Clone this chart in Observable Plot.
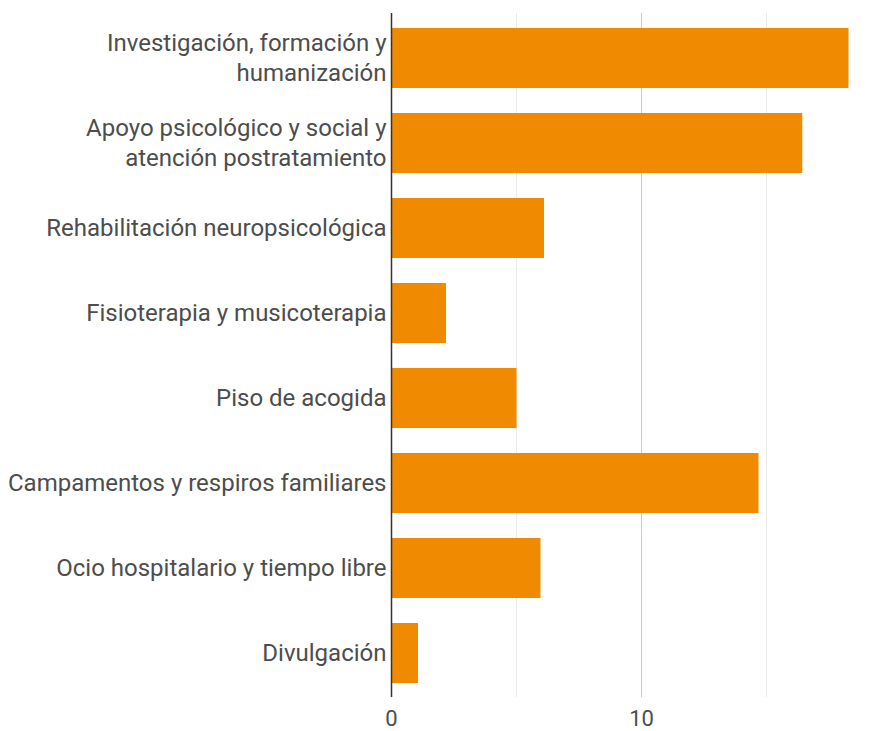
<!DOCTYPE html>
<html>
<head>
<meta charset="utf-8">
<script src="https://cdn.jsdelivr.net/npm/d3@7"></script>
<script src="https://cdn.jsdelivr.net/npm/@observablehq/plot@0.6"></script>
<style>
  html, body { margin: 0; padding: 0; background: #fff; }
  svg { display: block; }
</style>
</head>
<body>
<div id="chart"></div>
<script>
const categories = [
  "Investigación, formación y\nhumanización",
  "Apoyo psicológico y social y\natención postratamiento",
  "Rehabilitación neuropsicológica",
  "Fisioterapia y musicoterapia",
  "Piso de acogida",
  "Campamentos y respiros familiares",
  "Ocio hospitalario y tiempo libre",
  "Divulgación"
];
const values = [18.3, 16.45, 6.12, 2.2, 5.02, 14.7, 5.98, 1.08];
const majorTicks = [0, 10];
const minorTicks = [5, 15];

const data = categories.map((c, i) => ({category: c, value: values[i]}));

const chart = Plot.plot({
  width: 885,
  height: 731,
  marginLeft: 391,
  marginRight: 19,
  marginTop: 13,
  marginBottom: 34,
  style: {fontFamily: "Roboto, sans-serif", background: "#fff"},
  x: {domain: [0, 19]},
  y: {domain: categories, paddingInner: 0.295, paddingOuter: 0.165},
  marks: [
    Plot.ruleX(minorTicks, {stroke: "#ebebeb", strokeWidth: 1}),
    Plot.ruleX(majorTicks.filter(d => d !== 0), {stroke: "#cccccc", strokeWidth: 1}),
    Plot.barX(data, {x: "value", y: "category", fill: "#f08a00"}),
    Plot.ruleX([0], {stroke: "#333333", strokeWidth: 1.5}),
    Plot.axisX({ticks: majorTicks, tickSize: 0, tickPadding: 13, fontSize: 22, fill: "#4d4d4d", label: null}),
    Plot.axisY({tickSize: 0, tickPadding: 5, fontSize: 24, fill: "#4d4d4d", lineHeight: 1.25, dy: -2, label: null})
  ]
});
document.getElementById("chart").appendChild(chart);
</script>
</body>
</html>
